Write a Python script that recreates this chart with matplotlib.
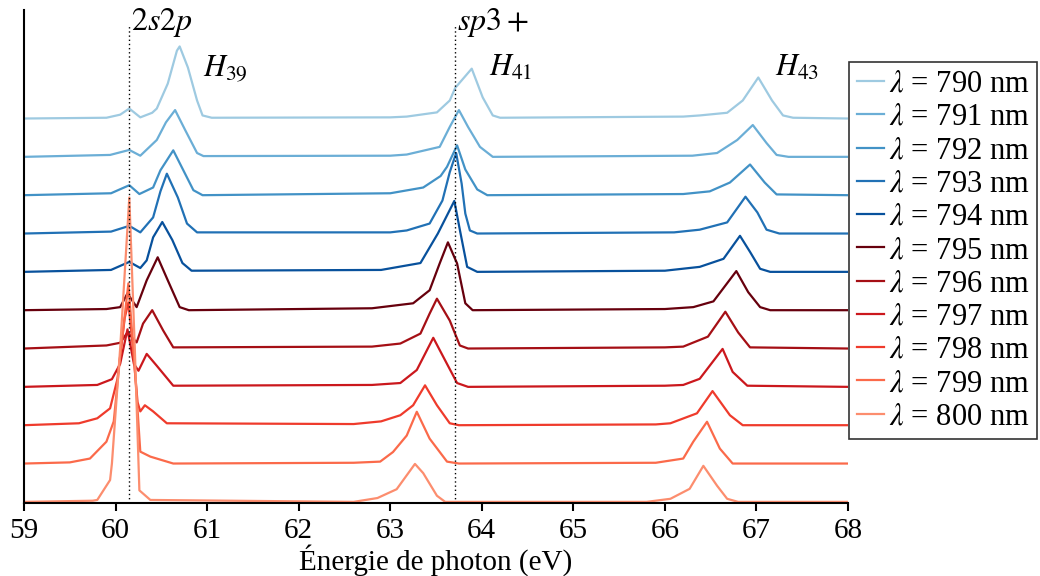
import matplotlib
matplotlib.use('Agg')
import matplotlib.pyplot as plt

plt.rcParams['font.family'] = 'Liberation Serif'
plt.rcParams['mathtext.fontset'] = 'stix'
plt.rcParams['font.size'] = 21

wavelengths = [790, 791, 792, 793, 794, 795, 796, 797, 798, 799, 800]
colors = ['#9ecae1', '#6baed6', '#4292c6', '#2171b5', '#08519c',
          '#67000d', '#a50f15', '#cb181d', '#ef3b2c', '#fb6a4a', '#fc8d6e']

# energies (eV) and heights above each curve's own baseline
e790 = [59.0, 59.9, 60.05, 60.15, 60.27, 60.4, 60.45, 60.57, 60.67, 60.70, 60.79, 60.89, 60.95, 61.05,
        63.0, 63.18, 63.51, 63.65, 63.71, 63.89, 64.01, 64.12, 64.2,
        66.2, 66.38, 66.68, 66.85, 67.02, 67.17, 67.29, 67.4, 68.0]
h790 = [0, 0.02, 0.1, 0.26, 0.03, 0.15, 0.26, 0.91, 1.77, 1.88, 1.33, 0.47, 0.08, 0.02,
        0.03, 0.05, 0.16, 0.47, 0.8, 1.3, 0.55, 0.08, 0.02,
        0.05, 0.08, 0.15, 0.47, 1.07, 0.47, 0.08, 0.02, 0.0]

e791 = [59.0, 59.94, 60.15, 60.27, 60.45, 60.55, 60.65, 60.76, 60.89, 60.96,
        63.0, 63.18, 63.54, 63.65, 63.75, 63.85, 63.98, 64.12,
        66.3, 66.57, 66.79, 66.96, 67.11, 67.22, 67.35, 68.0]
h791 = [0, 0.05, 0.18, 0.03, 0.44, 0.9, 1.22, 0.7, 0.1, 0.02,
        0.03, 0.06, 0.26, 0.78, 1.22, 0.78, 0.26, 0.0,
        0.03, 0.1, 0.44, 0.83, 0.36, 0.05, 0.0, 0.0]

e792 = [59.0, 59.95, 60.15, 60.26, 60.41, 60.49, 60.63, 60.74, 60.85, 60.95,
        63.0, 63.36, 63.55, 63.62, 63.73, 63.82, 63.95, 64.06,
        66.2, 66.49, 66.71, 66.93, 67.09, 67.22, 68.0]
h792 = [0, 0.05, 0.26, 0.03, 0.2, 0.65, 1.17, 0.65, 0.13, 0.0,
        0.05, 0.2, 0.5, 0.74, 1.3, 0.67, 0.15, 0.0,
        0.03, 0.1, 0.33, 0.8, 0.33, 0.02, 0.0]

e793 = [59.0, 59.95, 60.15, 60.27, 60.41, 60.49, 60.56, 60.68, 60.78, 60.89,
        63.0, 63.18, 63.43, 63.57, 63.65, 63.72, 63.78, 63.82, 63.87, 63.95,
        66.1, 66.38, 66.68, 66.88, 67.01, 67.11, 67.25, 68.0]
h793 = [0, 0.05, 0.2, 0.03, 0.42, 1.1, 1.56, 0.94, 0.26, 0.03,
        0.03, 0.08, 0.26, 0.86, 1.6, 2.1, 1.3, 0.52, 0.08, 0.0,
        0.03, 0.1, 0.29, 0.96, 0.55, 0.1, 0.0, 0.0]

e794 = [59.0, 59.95, 60.15, 60.27, 60.34, 60.41, 60.51, 60.62, 60.73, 60.83,
        62.9, 63.33, 63.52, 63.70, 63.76, 63.84, 63.95,
        66.0, 66.38, 66.64, 66.82, 66.93, 67.04, 67.15, 68.0]
h794 = [0, 0.05, 0.26, 0.1, 0.3, 0.9, 1.3, 0.83, 0.23, 0.03,
        0.05, 0.23, 1.0, 1.85, 1.1, 0.13, 0.0,
        0.03, 0.13, 0.34, 0.94, 0.52, 0.08, 0.0, 0.0]

e795 = [59.0, 59.9, 60.05, 60.13, 60.23, 60.34, 60.46, 60.57, 60.7, 60.8,
        62.8, 63.25, 63.43, 63.54, 63.63, 63.73, 63.82, 63.9,
        66.0, 66.31, 66.53, 66.78, 66.91, 67.04, 67.15, 68.0]
h795 = [0, 0.03, 0.08, 0.44, 0.08, 0.78, 1.38, 0.78, 0.08, 0.0,
        0.05, 0.18, 0.52, 1.22, 1.77, 1.22, 0.18, 0.0,
        0.03, 0.08, 0.23, 1.02, 0.47, 0.08, 0.0, 0.0]

e796 = [59.0, 59.9, 60.05, 60.13, 60.23, 60.3, 60.4, 60.52, 60.63,
        62.8, 63.11, 63.33, 63.43, 63.51, 63.65, 63.76, 63.85,
        66.0, 66.2, 66.47, 66.66, 66.8, 66.93, 68.0]
h796 = [0, 0.08, 0.15, 0.42, 0.16, 0.65, 1.0, 0.47, 0.03,
        0.05, 0.13, 0.39, 0.91, 1.3, 0.73, 0.08, 0.0,
        0.03, 0.05, 0.31, 0.96, 0.42, 0.03, 0.0]

e797 = [59.0, 59.8, 59.96, 60.05, 60.13, 60.2, 60.25, 60.34, 60.45, 60.63,
        62.8, 63.11, 63.29, 63.47, 63.58, 63.73, 63.85,
        66.0, 66.2, 66.38, 66.63, 66.74, 66.9, 68.0]
h797 = [0, 0.05, 0.2, 0.6, 1.5, 0.6, 0.42, 0.86, 0.55, 0.03,
        0.05, 0.1, 0.44, 1.28, 0.78, 0.1, 0.0,
        0.03, 0.05, 0.21, 0.99, 0.39, 0.03, 0.0]

e798 = [59.0, 59.6, 59.8, 59.94, 60.02, 60.1, 60.14, 60.19, 60.24, 60.27, 60.32, 60.41, 60.56,
        62.6, 62.9, 63.11, 63.25, 63.38, 63.51, 63.65, 63.75,
        65.9, 66.06, 66.35, 66.52, 66.71, 66.85, 68.0]
h798 = [0, 0.05, 0.18, 0.44, 1.2, 2.8, 3.2, 2.0, 0.6, 0.36, 0.52, 0.36, 0.05,
        0.03, 0.1, 0.26, 0.52, 1.04, 0.52, 0.05, 0.0,
        0.02, 0.05, 0.31, 0.89, 0.26, 0.0, 0.0]

e799 = [59.0, 59.5, 59.72, 59.9, 59.98, 60.05, 60.14, 60.2, 60.23, 60.27, 60.38, 60.63,
        62.6, 62.89, 63.03, 63.18, 63.29, 63.43, 63.62, 63.75,
        65.9, 66.2, 66.31, 66.46, 66.6, 66.74, 68.0]
h799 = [0, 0.03, 0.13, 0.57, 1.1, 2.8, 4.7, 2.8, 1.77, 0.31, 0.18, 0.0,
        0.02, 0.05, 0.3, 0.73, 1.35, 0.65, 0.05, 0.0,
        0.02, 0.13, 0.57, 1.09, 0.39, 0.0, 0.0]

e800 = [59.0, 59.75, 59.8, 59.94, 59.96, 60.05, 60.15, 60.21, 60.26, 60.38,
        62.6, 62.86, 63.07, 63.27, 63.36, 63.51, 63.6,
        65.8, 66.06, 66.27, 66.42, 66.57, 66.68, 66.8, 68.0]
h800 = [0, 0.03, 0.05, 0.57, 1.0, 4.0, 7.94, 4.0, 0.3, 0.05,
        0.0, 0.1, 0.33, 0.99, 0.75, 0.16, 0.0,
        0.0, 0.08, 0.34, 0.94, 0.42, 0.08, 0.0, 0.0]

energies = [e790, e791, e792, e793, e794, e795, e796, e797, e798, e799, e800]
heights = [h790, h791, h792, h793, h794, h795, h796, h797, h798, h799, h800]

fig = plt.figure(figsize=(10.4, 5.76), dpi=100)
ax = fig.add_axes([0.0231, 0.1267, 0.7923, 0.8559])

n = len(wavelengths)
for i, wl in enumerate(wavelengths):
    offset = n - 1 - i
    ax.plot(energies[i], [offset + v for v in heights[i]], color=colors[i], lw=1.6,
            label=r'$\lambda$ = %d nm' % wl)

ax.vlines([60.15, 63.71], -0.03, 12.47, colors='black', linestyles=(0, (1, 2)), lw=1)
ax.text(60.17, 12.3, r'$2s2p$', fontsize=23)
ax.text(63.73, 12.3, r'$sp3+$', fontsize=23)
ax.text(60.95, 11.3, r'$H_{39}$', fontsize=22, va='center')
ax.text(64.08, 11.3, r'$H_{41}$', fontsize=22, va='center')
ax.text(67.2, 11.3, r'$H_{43}$', fontsize=22, va='center')

ax.set_xlim(59, 68)
ax.set_ylim(-0.03, 12.83)
ax.set_xticks(range(59, 69))
ax.set_yticks([])
ax.spines['top'].set_visible(False)
ax.spines['right'].set_visible(False)
ax.spines['left'].set_linewidth(1.5)
ax.spines['bottom'].set_linewidth(1.5)
ax.tick_params(axis='x', width=1.5, length=6, pad=5)
ax.set_xlabel('Énergie de photon (eV)', labelpad=0)

leg = ax.legend(loc='upper left', bbox_to_anchor=(849 / 1040, 514 / 576),
                bbox_transform=fig.transFigure, borderaxespad=0, frameon=True,
                fancybox=False, handlelength=0.9, handletextpad=0.15,
                labelspacing=0.14, borderpad=0.25, fontsize=22)
leg.get_frame().set_edgecolor('black')
leg.get_frame().set_linewidth(1.2)

fig.savefig('out.png', dpi=100)
